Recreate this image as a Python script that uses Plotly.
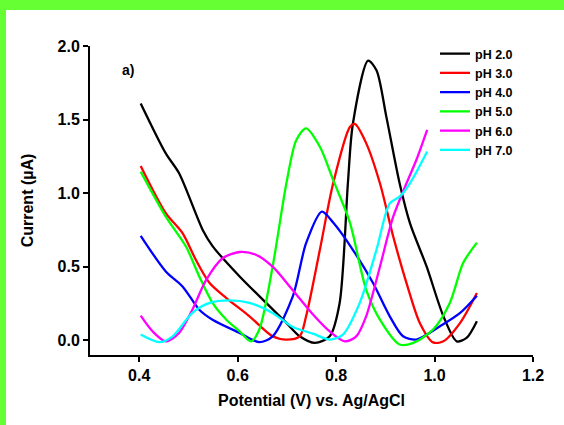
import plotly.graph_objects as go

# Data (Potential V, Current µA)
ph2_x = [0.403, 0.454, 0.481, 0.529, 0.549, 0.604, 0.658, 0.699, 0.726, 0.757, 0.787, 0.807, 0.824, 0.834, 0.865, 0.882, 0.902, 0.929, 0.950, 0.984, 1.018, 1.045, 1.065, 1.086]
ph2_y = [1.61, 1.27, 1.135, 0.75, 0.64, 0.434, 0.254, 0.118, 0.027, -0.018, 0.027, 0.25, 1.07, 1.47, 1.90, 1.835, 1.52, 1.067, 0.796, 0.50, 0.163, -0.007, 0.016, 0.13]

ph3_x = [0.403, 0.454, 0.488, 0.515, 0.543, 0.577, 0.624, 0.671, 0.699, 0.726, 0.739, 0.767, 0.794, 0.828, 0.838, 0.861, 0.889, 0.916, 0.943, 0.970, 0.997, 1.018, 1.052, 1.086]
ph3_y = [1.185, 0.864, 0.728, 0.547, 0.389, 0.287, 0.163, 0.027, 0.005, 0.027, 0.163, 0.615, 1.067, 1.45, 1.47, 1.34, 1.067, 0.705, 0.389, 0.118, -0.014, -0.007, 0.118, 0.321]

ph4_x = [0.403, 0.454, 0.488, 0.522, 0.549, 0.604, 0.644, 0.671, 0.712, 0.739, 0.771, 0.794, 0.834, 0.875, 0.909, 0.936, 0.963, 1.011, 1.052, 1.086]
ph4_y = [0.71, 0.468, 0.366, 0.208, 0.14, 0.05, -0.013, 0.027, 0.298, 0.66, 0.875, 0.80, 0.615, 0.389, 0.163, 0.027, 0.005, 0.095, 0.186, 0.303]

ph5_x = [0.403, 0.454, 0.495, 0.522, 0.549, 0.577, 0.604, 0.627, 0.644, 0.671, 0.699, 0.719, 0.739, 0.767, 0.794, 0.828, 0.861, 0.889, 0.929, 0.957, 0.997, 1.031, 1.058, 1.086]
ph5_y = [1.146, 0.84, 0.637, 0.434, 0.254, 0.14, 0.061, -0.007, 0.073, 0.50, 1.067, 1.36, 1.44, 1.315, 1.09, 0.80, 0.344, 0.14, -0.029, -0.018, 0.073, 0.254, 0.525, 0.664]

ph6_x = [0.403, 0.427, 0.454, 0.481, 0.508, 0.536, 0.570, 0.604, 0.638, 0.671, 0.712, 0.753, 0.787, 0.818, 0.841, 0.861, 0.889, 0.916, 0.943, 0.963, 0.985]
ph6_y = [0.167, 0.061, -0.007, 0.05, 0.208, 0.41, 0.559, 0.60, 0.58, 0.50, 0.34, 0.175, 0.06, -0.007, 0.027, 0.163, 0.50, 0.84, 1.067, 1.225, 1.43]

ph7_x = [0.403, 0.441, 0.468, 0.508, 0.543, 0.583, 0.624, 0.671, 0.712, 0.753, 0.787, 0.814, 0.848, 0.882, 0.909, 0.929, 0.950, 0.985]
ph7_y = [0.039, -0.013, 0.027, 0.186, 0.254, 0.271, 0.254, 0.186, 0.09, 0.045, 0.005, 0.039, 0.254, 0.615, 0.93, 0.976, 1.067, 1.283]

series = [
    ("pH 2.0", ph2_x, ph2_y, "#000000"),
    ("pH 3.0", ph3_x, ph3_y, "#FF0000"),
    ("pH 4.0", ph4_x, ph4_y, "#0000FF"),
    ("pH 5.0", ph5_x, ph5_y, "#00FF00"),
    ("pH 6.0", ph6_x, ph6_y, "#FF00FF"),
    ("pH 7.0", ph7_x, ph7_y, "#00FFFF"),
]

x_ticks = [0.4, 0.6, 0.8, 1.0, 1.2]
y_ticks = [0.0, 0.5, 1.0, 1.5, 2.0]

FONT = "Liberation Sans, Arial, sans-serif"

fig = go.Figure()
for name, xs, ys, col in series:
    fig.add_trace(go.Scatter(x=xs, y=ys, mode="lines", name=name,
                             line=dict(color=col, width=2.3, shape="spline", smoothing=0.8)))

fig.update_layout(
    width=564, height=425,
    margin=dict(l=90, r=31, t=46, b=70),
    paper_bgcolor="white", plot_bgcolor="white",
    font=dict(family=FONT, size=16, color="black", weight="bold"),
    showlegend=True,
    legend=dict(bgcolor="rgba(0,0,0,0)",
                font=dict(family=FONT, size=12.5, weight="bold"), tracegroupgap=0,
                itemwidth=30),
    xaxis=dict(range=[0.3, 1.2], tickvals=x_ticks, ticktext=[f"{v:.1f}" for v in x_ticks],
               showgrid=False, zeroline=False, showline=True, linecolor="black", linewidth=2,
               ticks="outside", ticklen=5, tickwidth=2, tickcolor="black",
               title=dict(text="Potential (V) vs. Ag/AgCl", font=dict(size=16, weight="bold"), standoff=12),
               tickfont=dict(size=16, weight="bold")),
    yaxis=dict(range=[-0.1, 2.0], tickvals=y_ticks, ticktext=[f"{v:.1f}" for v in y_ticks],
               showgrid=False, zeroline=False, showline=True, linecolor="black", linewidth=2,
               ticks="outside", ticklen=5, tickwidth=2, tickcolor="black",
               title=dict(text="Current (µA)", font=dict(size=16, weight="bold"), standoff=20),
               tickfont=dict(size=16, weight="bold")),
)

pw = 564 - 90 - 31
ph = 425 - 46 - 70
fig.update_layout(legend=dict(x=(435 - 90) / pw, y=(425 - 70 - 39) / ph, xanchor="left", yanchor="top"))

fig.add_annotation(x=(120 - 90) / pw, y=(425 - 70 - 60) / ph, xref="paper", yref="paper",
                   text="a)", showarrow=False, font=dict(size=14, weight="bold"))

# green frame (top and left bands)
fig.add_shape(type="rect", xref="paper", yref="paper",
              x0=-90 / pw, x1=(564 - 90) / pw, y0=(425 - 70 - 10) / ph, y1=(425 - 70) / ph,
              fillcolor="#66FF33", line=dict(width=0), layer="above")
fig.add_shape(type="rect", xref="paper", yref="paper",
              x0=-90 / pw, x1=(6 - 90) / pw, y0=-70 / ph, y1=(425 - 70) / ph,
              fillcolor="#66FF33", line=dict(width=0), layer="above")

fig.write_html("out.html")
